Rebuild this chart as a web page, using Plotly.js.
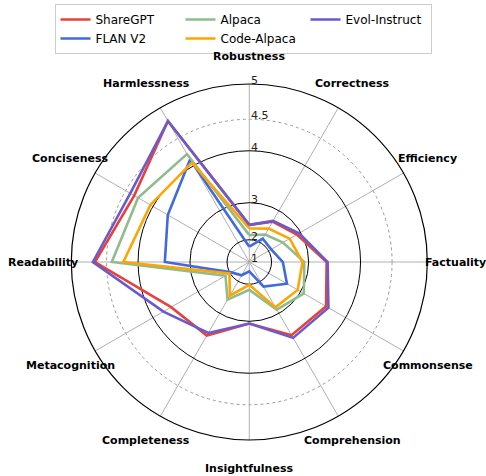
<!DOCTYPE html>
<html>
<head>
<meta charset="utf-8">
<script src="https://cdn.plot.ly/plotly-3.0.1.min.js"></script>
<style>html,body{margin:0;padding:0;background:#fff;}#chart{width:486px;height:476px;}</style>
</head>
<body>
<div id="chart"></div>
<script>
// ---- data (scores) ----
const categories = ["Robustness", "Correctness", "Efficiency", "Factuality", "Commonsense", "Comprehension",
  "Insightfulness", "Completeness", "Metacognition", "Readability", "Conciseness", "Harmlessness"];
const shareGPT     = [2.45, 2.70, 2.90, 3.38, 3.60, 3.52, 3.05, 3.53, 3.63, 4.67, 4.35, 4.79];
const flanV2       = [1.75, 2.15, 2.10, 2.35, 2.62, 2.20, 1.50, 1.75, 1.95, 3.52, 3.70, 4.12];
const alpaca       = [2.15, 2.30, 2.50, 2.90, 3.08, 2.90, 2.18, 2.62, 2.17, 4.42, 4.28, 4.22];
const codeAlpaca   = [2.35, 2.49, 2.70, 2.86, 2.92, 2.84, 2.02, 2.50, 2.02, 4.24, 4.05, 4.06];
const evolInstruct = [2.45, 2.72, 2.96, 3.40, 3.65, 3.58, 3.05, 3.47, 3.79, 4.70, 4.42, 4.79];
const seriesNames  = ["ShareGPT", "FLAN V2", "Alpaca", "Code-Alpaca", "Evol-Instruct"];
const radialTicks  = [1, 2, 3, 4, 4.5, 5];
const solidTicks   = [2, 3, 4, 5];
const dottedTicks  = [4.5];

// ---- style ----
const colors = ["#e8413c", "#4169e1", "#8fbc8f", "#ffa500", "#6a5acd"];
const legendRank = [1, 4, 2, 5, 3];
const W = 486, H = 476;
const cx = 249.3, cy = 262, R = 178;
const rmin = 1, rmax = 5;
// radial scale of the reference: radius grows with (v^2 - 1)
const f = v => v * v - rmin * rmin;

const allSeries = [shareGPT, flanV2, alpaca, codeAlpaca, evolInstruct];
const thetaClosed = categories.concat([categories[0]]);
const traces = allSeries.map((vals, i) => ({
  type: "scatterpolar",
  mode: "lines",
  name: seriesNames[i],
  theta: thetaClosed,
  r: vals.concat([vals[0]]).map(f),
  line: {color: colors[i], width: 2.6},
  legendrank: legendRank[i],
  hoverinfo: "skip"
}));

const n = categories.length;
const domain = {
  x: [(cx - R) / W, (cx + R) / W],
  y: [1 - (cy + R) / H, 1 - (cy - R) / H]
};

const annotations = [];
categories.forEach((c, i) => {
  const a = (90 - i * 360 / n) * Math.PI / 180;
  const rr = R + 28;
  annotations.push({
    xref: "paper", yref: "paper",
    x: (cx + rr * Math.cos(a)) / W,
    y: 1 - (cy - rr * Math.sin(a)) / H,
    text: c, showarrow: false, xanchor: "center", yanchor: "middle",
    font: {family: "DejaVu Sans", size: 11, color: "#000", weight: "bold"}
  });
});
radialTicks.forEach(t => {
  const rp = R * f(t) / f(rmax);
  annotations.push({
    xref: "paper", yref: "paper",
    x: (cx + 1) / W, y: 1 - (cy - rp) / H, yshift: -4,
    text: String(t), showarrow: false, xanchor: "left", yanchor: "bottom",
    font: {family: "DejaVu Sans", size: 11, color: "#222"},
    borderpad: 0
  });
});

// dotted reference circle(s), sized from the same radial scale
const shapes = dottedTicks.map(t => {
  const rp = R * f(t) / f(rmax);
  return {
    type: "circle", layer: "below",
    xref: "paper", yref: "paper",
    xsizemode: "pixel", ysizemode: "pixel",
    xanchor: cx / W, yanchor: 1 - cy / H,
    x0: -rp, x1: rp, y0: -rp, y1: rp,
    line: {color: "#999", width: 1, dash: "dot"}
  };
});

const layout = {
  width: W, height: H,
  margin: {l: 0, r: 0, t: 0, b: 0},
  paper_bgcolor: "#fff",
  font: {family: "DejaVu Sans", size: 12, color: "#000"},
  showlegend: true,
  legend: {
    orientation: "h", x: 0.5, xanchor: "center", y: 1 - 4 / H, yanchor: "top",
    bordercolor: "#cccccc", borderwidth: 1, bgcolor: "#fff",
    entrywidth: 80, font: {family: "DejaVu Sans", size: 12, color: "#000"},
    traceorder: "normal"
  },
  polar: {
    domain: domain,
    bgcolor: "rgba(0,0,0,0)",
    radialaxis: {range: [0, f(rmax)], tickvals: solidTicks.map(f), showticklabels: false, ticks: "",
      showline: false, gridcolor: "#000", gridwidth: 1},
    angularaxis: {type: "category", categoryorder: "array", categoryarray: categories,
      direction: "clockwise", rotation: 90, showticklabels: false, ticks: "",
      gridcolor: "#b0b0b0", gridwidth: 1,
      showline: true, linecolor: "#000", linewidth: 1.2}
  },
  shapes: shapes,
  annotations: annotations
};

Plotly.newPlot("chart", traces, layout, {staticPlot: true, displayModeBar: false});
</script>
</body>
</html>
